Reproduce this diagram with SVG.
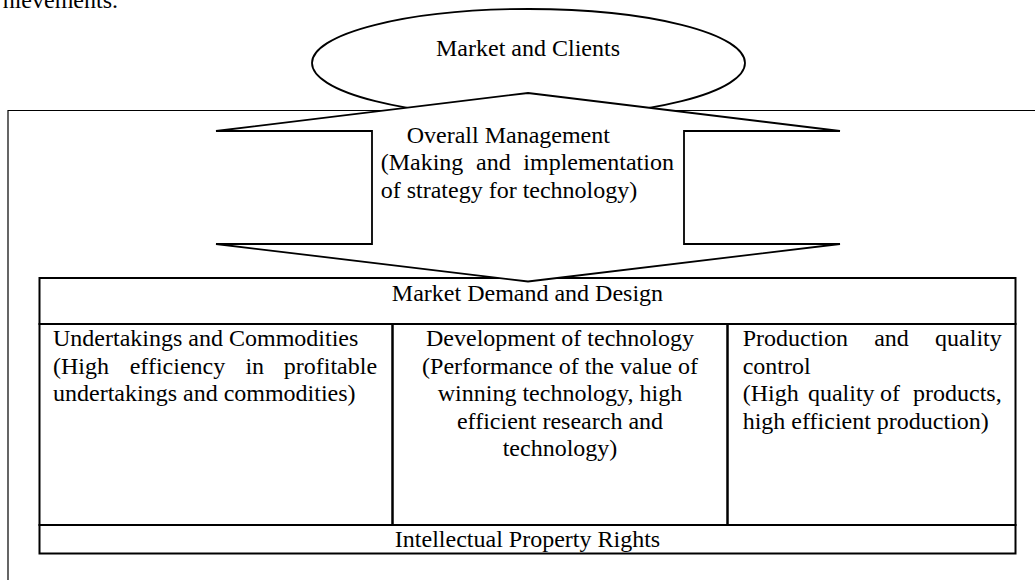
<svg xmlns="http://www.w3.org/2000/svg" width="1035" height="580" viewBox="0 0 1035 580">
<style>
text{font-family:"Liberation Serif","Times New Roman",serif;font-size:24px;fill:#000}
.c{text-anchor:middle}
.frame{fill:none;stroke:#000;stroke-width:1.2}
.tbl{fill:none;stroke:#000;stroke-width:2}
.shape{fill:#fff;stroke:#000;stroke-width:1.8}
</style>
<rect x="0" y="0" width="1035" height="580" fill="#fff"/>
<text x="2.7" y="8.3">hievements.</text>
<g id="frame">
<path class="frame" d="M8,580 V110.5 H1035"/>
</g>
<g id="table">
<g id="market-demand">
<rect class="tbl" x="39.5" y="278" width="976" height="46"/>
<text class="c" x="527.5" y="301">Market Demand and Design</text>
</g>
<g id="undertakings">
<rect class="tbl" x="39.5" y="324" width="353" height="201"/>
<text x="53" y="346">Undertakings and Commodities</text>
<text y="373.6"><tspan x="53">(High</tspan><tspan x="129.7">efficiency</tspan><tspan x="245.4">in</tspan><tspan x="283.8">profitable</tspan></text>
<text x="53" y="401.2">undertakings and commodities)</text>
</g>
<g id="development">
<rect class="tbl" x="392.5" y="324" width="335" height="201"/>
<text class="c" x="560" y="346">Development of technology</text>
<text class="c" x="560" y="373.6">(Performance of the value of</text>
<text class="c" x="560" y="401.2">winning technology, high</text>
<text class="c" x="560" y="428.8">efficient research and</text>
<text class="c" x="560" y="456.4">technology)</text>
</g>
<g id="production">
<rect class="tbl" x="727.5" y="324" width="288" height="201"/>
<text y="346"><tspan x="742.7">Production</tspan><tspan x="874.2">and</tspan><tspan x="935.1">quality</tspan></text>
<text x="742.7" y="373.6">control</text>
<text y="401.2"><tspan x="742.7">(High</tspan><tspan x="807.9">quality</tspan><tspan x="880">of</tspan><tspan x="1001.7" style="text-anchor:end">products,</tspan></text>
<text x="742.7" y="428.8">high efficient production)</text>
</g>
<g id="ipr">
<rect class="tbl" x="39.5" y="525" width="976" height="28.5"/>
<text class="c" x="527.5" y="546.5">Intellectual Property Rights</text>
</g>
</g>
<g id="market-clients">
<ellipse class="shape" cx="528.5" cy="63" rx="216.5" ry="54"/>
<text class="c" x="528" y="56">Market and Clients</text>
</g>
<g id="overall-management">
<polygon class="shape" points="528,93 840,131 684,131 684,244 840,244 528,281.5 216,244 372,244 372,131 216,131"/>
<text x="406.7" y="142.5">Overall Management</text>
<text y="170"><tspan x="380.7">(Making</tspan><tspan x="476">and</tspan><tspan x="523.3">implementation</tspan></text>
<text x="380.7" y="197.6">of strategy for technology)</text>
</g>
<g id="connectors"/>
</svg>
